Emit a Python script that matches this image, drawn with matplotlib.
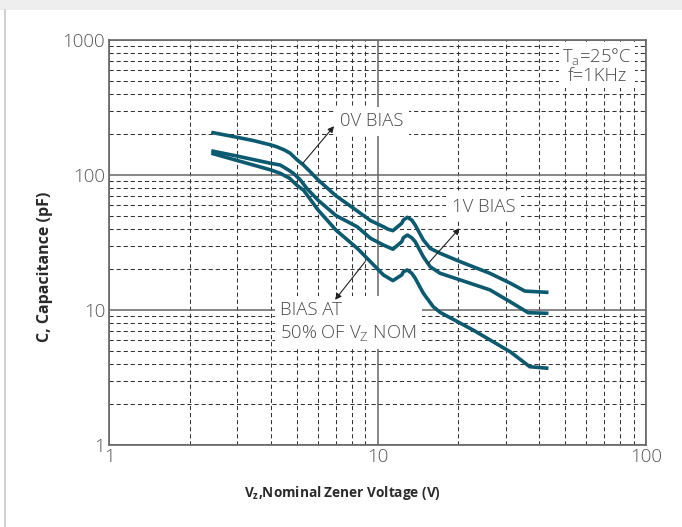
import matplotlib
matplotlib.use("Agg")
import matplotlib.pyplot as plt
from matplotlib.ticker import LogLocator, FixedLocator, NullFormatter
from matplotlib.patches import Rectangle
from matplotlib.lines import Line2D

plt.rcParams['font.family'] = ['Open Sans', 'DejaVu Sans']
plt.rcParams['mathtext.fontset'] = 'custom'
plt.rcParams['mathtext.rm'] = 'Open Sans'
plt.rcParams['mathtext.bf'] = 'Open Sans:bold'

# ---- data ----
V_top = [2.4, 3.0, 3.44, 4.0, 4.2, 4.5, 4.72, 5.0, 5.29, 5.6, 6.0, 7.0, 8.0, 9.4, 10.5, 10.96, 11.4, 12.3, 12.47, 12.9, 13.4, 13.8, 14.8, 15.7, 17.1, 20.3, 26.2, 31.2, 35.4, 38, 43.3]
C_top = [207, 190, 180, 167, 162, 153, 145, 130, 118.6, 106, 92, 70, 58, 46, 41.4, 39.6, 38.7, 43.9, 46.4, 48.6, 46.4, 42.6, 33, 28.6, 26.3, 22.8, 18.7, 15.8, 13.8, 13.7, 13.5]

V_mid = [2.4, 3.0, 4.0, 4.33, 4.65, 4.85, 5.15, 5.44, 6.0, 7.0, 8.4, 9.4, 10.5, 11.4, 12.3, 12.47, 12.9, 13.4, 13.8, 14.8, 15.7, 17.1, 20.3, 26.2, 31.2, 36.4, 43.3]
C_mid = [151, 138, 122, 118.6, 109, 103, 92, 79.7, 65, 50, 41.3, 34, 30.3, 28.2, 32.1, 34.3, 35.9, 34.3, 32.1, 24.8, 20.9, 18.7, 16.7, 14.1, 11.5, 9.55, 9.45]

V_bot = [2.4, 3.0, 4.0, 4.33, 4.7, 4.99, 5.3, 6.0, 7.0, 8.4, 9.4, 10.5, 11.4, 12.3, 12.47, 12.9, 13.4, 13.8, 14.8, 16.1, 17.1, 22.7, 31.2, 36.9, 43.3]
C_bot = [145, 128, 109, 103, 94.5, 84.3, 77, 55, 39, 28.6, 22.8, 18.2, 16.5, 18.2, 19.2, 19.8, 18.7, 17.2, 13.3, 10.6, 9.6, 7.1, 4.9, 3.8, 3.7]

x_ticks = [1, 10, 100]
x_tick_labels = ['1', '10', '100']
y_ticks = [1, 10, 100, 1000]
y_tick_labels = ['1', '10', '100', '1000']

curve_color = '#0c5a70'
text_color = '#4a4a4a'

fig = plt.figure(figsize=(6.82, 5.27), dpi=100)
# top grey band and left border line
fig.patches.append(Rectangle((0, 1 - 10 / 527), 1, 10 / 527, transform=fig.transFigure,
                             facecolor='#eeeeee', edgecolor='none', zorder=0))
fig.lines.append(Line2D([5 / 682, 5 / 682], [0, 1 - 10 / 527], transform=fig.transFigure,
                        color='#c8c8c8', lw=1.2))

ax = fig.add_axes([109.3 / 682, 1 - 445 / 527, (646 - 109.3) / 682, (445 - 40) / 527])
ax.set_xscale('log')
ax.set_yscale('log')
ax.set_xlim(1, 100)
ax.set_ylim(1, 1000)

ax.xaxis.set_major_locator(FixedLocator(x_ticks))
ax.yaxis.set_major_locator(FixedLocator(y_ticks))
ax.set_xticklabels(x_tick_labels)
ax.set_yticklabels(y_tick_labels)
ax.xaxis.set_minor_locator(LogLocator(base=10, subs=range(2, 10)))
ax.yaxis.set_minor_locator(LogLocator(base=10, subs=range(2, 10)))
ax.xaxis.set_minor_formatter(NullFormatter())
ax.yaxis.set_minor_formatter(NullFormatter())
ax.tick_params(which='both', length=0)
ax.tick_params(axis='both', labelsize=13.5, labelcolor='#555555')
ax.tick_params(axis='x', pad=2)
ax.tick_params(axis='y', pad=3)
for lab in ax.get_xticklabels() + ax.get_yticklabels():
    lab.set_fontweight('light')

ax.grid(which='major', color='#666666', lw=1.1, ls='-')
ax.grid(which='minor', color='#333333', lw=0.75, ls=(0, (4, 2.8)))
ax.set_axisbelow(True)
for s in ax.spines.values():
    s.set_color('#666666')
    s.set_linewidth(1.2)

for V, C in [(V_top, C_top), (V_mid, C_mid), (V_bot, C_bot)]:
    ax.plot(V, C, color=curve_color, lw=2.6, solid_joinstyle='round',
            solid_capstyle='butt', zorder=5)

fig.text(342 / 682, 1 - 493 / 527, r'$\mathbf{V_z}$,Nominal Zener Voltage (V)',
         fontsize=9.8, fontweight='bold', color='#2a2a2a', ha='center', va='center')
fig.text(45 / 682, 1 - 267 / 527, 'C, Capacitance (pF)', fontsize=11.5,
         fontweight='bold', color='#2a2a2a', ha='center', va='center', rotation=90)

bbox = dict(facecolor='white', edgecolor='none', pad=4)
arrow = dict(arrowstyle='-|>', color='#222222', lw=0.8, mutation_scale=9,
             shrinkA=0, shrinkB=0)

fs = 13.3
ax.text(7.24, 251, '0V BIAS', fontsize=fs, color=text_color, ha='left', va='center',
        fontweight='light', bbox=bbox, zorder=6)
ax.annotate('', xy=(6.88, 230), xytext=(5.26, 122), arrowprops=arrow, zorder=7)

ax.text(18.9, 58, '1V BIAS', fontsize=fs, color=text_color, ha='left', va='center',
        fontweight='light', bbox=bbox, zorder=6)
ax.annotate('', xy=(20.2, 40.3), xytext=(15.45, 22.2), arrowprops=arrow, zorder=7)

ax.text(4.33, 8.15, 'BIAS AT\n50% OF V$_\\mathregular{Z}$ NOM', fontsize=fs,
        color=text_color, ha='left', va='center', linespacing=1.3,
        fontweight='light', bbox=bbox, zorder=6)
ax.annotate('', xy=(6.94, 11.9), xytext=(8.98, 22.8), arrowprops=arrow, zorder=7)

ax.text(65.7, 647, 'T$_\\mathregular{a}$=25°C\nf=1KHz', fontsize=fs, color=text_color,
        ha='center', va='center', linespacing=1.0, fontweight='light',
        bbox=dict(facecolor='white', edgecolor='none', pad=2), zorder=6)

fig.savefig('out.png', dpi=100)
